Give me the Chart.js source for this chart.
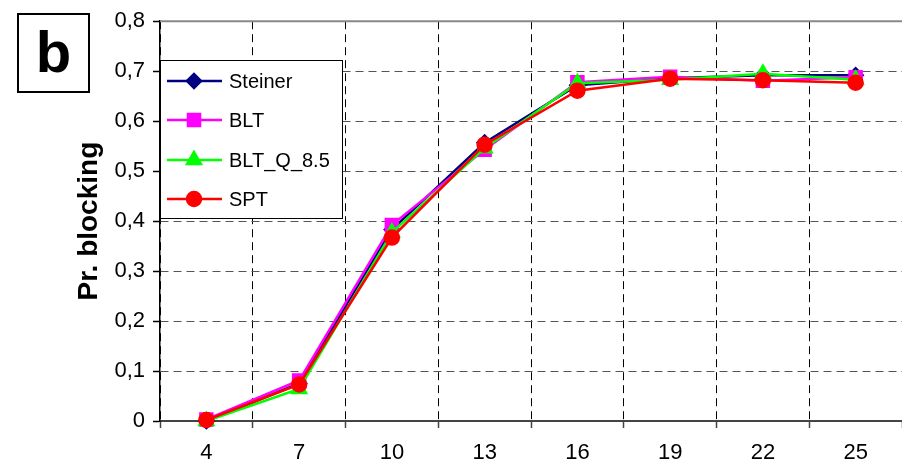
<!DOCTYPE html>
<html lang="en">
<head>
    <meta charset="UTF-8">
    <title>Pr. blocking</title>
    <style>
        html, body {
            margin: 0;
            padding: 0;
            background: white;
            width: 902px;
            height: 463px;
            overflow: hidden;
            font-family: 'Liberation Sans', Arial, sans-serif;
        }
        .wrap {
            position: relative;
            width: 902px;
            height: 463px;
        }
        .tag {
            position: absolute;
            left: 17px;
            top: 13px;
            width: 73px;
            height: 80px;
            box-sizing: border-box;
            border: 2px solid black;
            font-weight: bold;
            font-size: 58px;
            line-height: 74px;
            text-align: center;
            background: white;
            z-index: 2;
        }
    </style>
    <script src="https://cdn.jsdelivr.net/npm/chart.js@4.4.1/dist/chart.umd.min.js"></script>
</head>
<body>
<div class="wrap">
    <canvas id="chart" width="902" height="463"></canvas>
    <div class="tag">b</div>
</div>
<script>
    const categories = ['4', '7', '10', '13', '16', '19', '22', '25'];
    const steiner = [0.000, 0.075, 0.383, 0.557, 0.672, 0.686, 0.692, 0.692];
    const blt     = [0.003, 0.081, 0.392, 0.543, 0.678, 0.689, 0.681, 0.688];
    const bltQ    = [0.000, 0.064, 0.377, 0.546, 0.676, 0.683, 0.695, 0.683];
    const spt     = [0.002, 0.073, 0.367, 0.553, 0.661, 0.685, 0.682, 0.677];

    const FONT = "'Liberation Sans', Arial, sans-serif";

    function series(label, data, color, style, radius, order) {
        return {
            label: label,
            data: data,
            borderColor: color,
            backgroundColor: color,
            pointBackgroundColor: color,
            pointBorderColor: color,
            pointStyle: style,
            pointRadius: radius,
            pointHoverRadius: radius,
            borderWidth: 2.5,
            tension: 0,
            clip: false,
            order: order
        };
    }

    // top border + legend box drawn over the plot
    const extras = {
        id: 'extras',
        afterDraw(chart) {
            const ctx = chart.ctx;
            const a = chart.chartArea;
            ctx.save();
            ctx.strokeStyle = '#888';
            ctx.lineWidth = 2;
            ctx.beginPath();
            ctx.moveTo(a.left, a.top);
            ctx.lineTo(a.right, a.top);
            ctx.stroke();

            // legend
            const bx = 160.5, by = 60.5, bw = 182, bh = 158;
            ctx.fillStyle = 'white';
            ctx.fillRect(bx, by, bw, bh);
            ctx.strokeStyle = 'black';
            ctx.lineWidth = 1;
            ctx.strokeRect(bx, by, bw, bh);
            const rows = [81, 120, 160, 199];
            ctx.font = '20px ' + FONT;
            ctx.textBaseline = 'middle';
            chart.data.datasets.forEach((ds, i) => {
                const y = rows[i];
                ctx.strokeStyle = ds.borderColor;
                ctx.lineWidth = 2.5;
                ctx.beginPath();
                ctx.moveTo(167, y);
                ctx.lineTo(222, y);
                ctx.stroke();
                ctx.fillStyle = ds.backgroundColor;
                Chart.helpers.drawPoint(ctx, {
                    pointStyle: ds.pointStyle,
                    radius: ds.pointRadius,
                    rotation: 0,
                    borderWidth: 1
                }, 194, y);
                ctx.fillStyle = 'black';
                ctx.fillText(ds.label, 229, y + 1);
            });
            ctx.restore();
        }
    };

    new Chart(document.getElementById('chart'), {
        type: 'line',
        data: {
            labels: categories,
            datasets: [
                series('Steiner', steiner, '#000080', 'rectRot', 7, 3),
                series('BLT', blt, '#FF00FF', 'rect', 8.5, 2),
                series('BLT_Q_8.5', bltQ, '#00FF00', 'triangle', 8, 1),
                series('SPT', spt, '#FF0000', 'circle', 7, 0)
            ]
        },
        options: {
            responsive: false,
            animation: false,
            layout: { autoPadding: false, padding: { top: 20, right: -3, bottom: 0, left: 0 } },
            plugins: {
                legend: { display: false },
                tooltip: { enabled: false }
            },
            scales: {
                x: {
                    type: 'category',
                    offset: true,
                    afterFit(scale) { scale.height = 42; },
                    grid: {
                        offset: true,
                        color: '#000',
                        lineWidth: 1,
                        tickLength: 7,
                        tickColor: '#444',
                        tickWidth: 1.5
                    },
                    border: { display: true, color: '#444', width: 2, dash: [8, 5] },
                    ticks: {
                        color: '#000',
                        font: { family: FONT, size: 22 },
                        padding: 12,
                        maxRotation: 0
                    }
                },
                y: {
                    min: 0,
                    max: 0.8,
                    afterFit(scale) { scale.width = 160; },
                    grid: {
                        color: '#555',
                        lineWidth: 1,
                        tickLength: 7,
                        tickColor: '#000',
                        tickWidth: 1.5
                    },
                    border: { display: true, color: '#000', width: 1.5, dash: [8, 5] },
                    ticks: {
                        stepSize: 0.1,
                        color: '#000',
                        padding: 8,
                        font: { family: FONT, size: 22 },
                        callback: v => (Math.round(v * 10) / 10).toString().replace('.', ',')
                    },
                    title: {
                        display: true,
                        text: 'Pr. blocking',
                        color: '#000',
                        font: { family: FONT, size: 28, weight: 'bold' },
                        padding: { top: 72, bottom: 0 }
                    }
                }
            }
        },
        plugins: [extras]
    });
</script>
</body>
</html>
